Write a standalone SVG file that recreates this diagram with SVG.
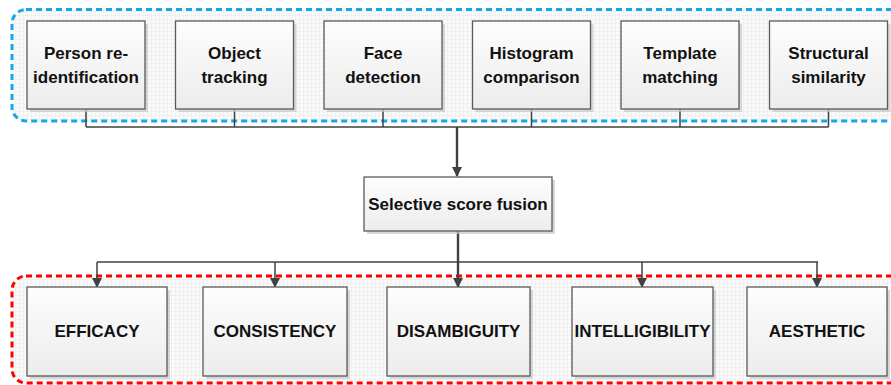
<svg xmlns="http://www.w3.org/2000/svg" width="891" height="385" viewBox="0 0 891 385">
  <defs>
    <pattern id="grid" width="4" height="4" patternUnits="userSpaceOnUse">
      <rect width="4" height="4" fill="#fafafa"/>
      <path d="M4 0V4M0 4H4" stroke="#e3e3e3" stroke-width="0.8" fill="none"/>
    </pattern>
    <linearGradient id="boxFill" x1="0" y1="0" x2="0" y2="1">
      <stop offset="0" stop-color="#fdfdfd"/>
      <stop offset="1" stop-color="#ececec"/>
    </linearGradient>
    <marker id="arrow" markerWidth="10" markerHeight="10" refX="9" refY="5" orient="auto" markerUnits="userSpaceOnUse">
      <path d="M0 0L10 5L0 10Z" fill="#404040"/>
    </marker>
  </defs>
  <style>
    .box { fill: url(#boxFill); stroke: #5a5a5a; stroke-width: 1.3; }
    .shadow { fill: #c8c8c8; opacity: 0.7; }
    .lbl { font-family: "Liberation Sans", Arial, sans-serif; font-weight: bold; fill: #111; text-anchor: middle; }
    .top { font-size: 17px; }
    .bot { font-size: 17px; }
    .wire { fill: none; stroke: #404040; stroke-width: 1.5; }
    .trunk { fill: none; stroke: #404040; stroke-width: 2.4; }
  </style>

  <rect width="891" height="385" fill="#ffffff"/>

  <!-- containers -->
  <g id="sources-group">
    <rect x="12" y="9.5" width="900" height="111.5" rx="14" fill="url(#grid)" stroke="#12a8ec" stroke-width="3" stroke-dasharray="6 4"/>
  </g>
  <g id="criteria-group">
    <rect x="12" y="276" width="900" height="107" rx="14" fill="url(#grid)" stroke="#ff0000" stroke-width="3" stroke-dasharray="6 4"/>
  </g>

  <!-- connectors -->
  <g id="connectors">
    <path class="wire" d="M86 109V127M234.5 109V127M383 109V127M531.5 109V127M680 109V127M828.5 109V127M86 127H828.5"/>
    <path class="trunk" d="M457 127V176" marker-end="url(#arrow)"/>
    <path class="trunk" d="M458 231V262"/>
    <path class="wire" d="M97 262H818"/>
    <path class="wire" d="M97 262V287" marker-end="url(#arrow)"/>
    <path class="wire" d="M275 262V287" marker-end="url(#arrow)"/>
    <path class="trunk" d="M458 262V287" marker-end="url(#arrow)"/>
    <path class="wire" d="M642 262V287" marker-end="url(#arrow)"/>
    <path class="wire" d="M817 262V287" marker-end="url(#arrow)"/>
  </g>

  <!-- feature extractors -->
  <g id="person-reid">
    <rect class="shadow" x="30" y="24" width="118" height="88"/>
    <rect class="box" x="27" y="21" width="118" height="88"/>
    <text class="lbl top" x="86" y="59">Person re-</text>
    <text class="lbl top" x="86" y="82.5">identification</text>
  </g>
  <g id="object-tracking">
    <rect class="shadow" x="178.5" y="24" width="118" height="88"/>
    <rect class="box" x="175.5" y="21" width="118" height="88"/>
    <text class="lbl top" x="234.5" y="59">Object</text>
    <text class="lbl top" x="234.5" y="82.5">tracking</text>
  </g>
  <g id="face-detection">
    <rect class="shadow" x="327" y="24" width="118" height="88"/>
    <rect class="box" x="324" y="21" width="118" height="88"/>
    <text class="lbl top" x="383" y="59">Face</text>
    <text class="lbl top" x="383" y="82.5">detection</text>
  </g>
  <g id="histogram-comparison">
    <rect class="shadow" x="475.5" y="24" width="118" height="88"/>
    <rect class="box" x="472.5" y="21" width="118" height="88"/>
    <text class="lbl top" x="531.5" y="59">Histogram</text>
    <text class="lbl top" x="531.5" y="82.5">comparison</text>
  </g>
  <g id="template-matching">
    <rect class="shadow" x="624" y="24" width="118" height="88"/>
    <rect class="box" x="621" y="21" width="118" height="88"/>
    <text class="lbl top" x="680" y="59">Template</text>
    <text class="lbl top" x="680" y="82.5">matching</text>
  </g>
  <g id="structural-similarity">
    <rect class="shadow" x="772.5" y="24" width="118" height="88"/>
    <rect class="box" x="769.5" y="21" width="118" height="88"/>
    <text class="lbl top" x="828.5" y="59">Structural</text>
    <text class="lbl top" x="828.5" y="82.5">similarity</text>
  </g>

  <!-- fusion -->
  <g id="score-fusion">
    <rect class="shadow" x="367" y="180" width="188" height="54"/>
    <rect class="box" x="364" y="177" width="188" height="54"/>
    <text class="lbl top" x="458" y="209.5">Selective score fusion</text>
  </g>

  <!-- quality criteria -->
  <g id="efficacy">
    <rect class="shadow" x="30" y="290" width="140" height="89"/>
    <rect class="box" x="27" y="287" width="140" height="89"/>
    <text class="lbl bot" x="97" y="337">EFFICACY</text>
  </g>
  <g id="consistency">
    <rect class="shadow" x="206" y="290" width="144" height="89"/>
    <rect class="box" x="203" y="287" width="144" height="89"/>
    <text class="lbl bot" x="275" y="337">CONSISTENCY</text>
  </g>
  <g id="disambiguity">
    <rect class="shadow" x="390" y="290" width="143" height="89"/>
    <rect class="box" x="387" y="287" width="143" height="89"/>
    <text class="lbl bot" x="458.5" y="337">DISAMBIGUITY</text>
  </g>
  <g id="intelligibility">
    <rect class="shadow" x="575" y="290" width="141" height="89"/>
    <rect class="box" x="572" y="287" width="141" height="89"/>
    <text class="lbl bot" x="642.5" y="337">INTELLIGIBILITY</text>
  </g>
  <g id="aesthetic">
    <rect class="shadow" x="750" y="290" width="140" height="89"/>
    <rect class="box" x="747" y="287" width="140" height="89"/>
    <text class="lbl bot" x="817" y="337">AESTHETIC</text>
  </g>
</svg>
